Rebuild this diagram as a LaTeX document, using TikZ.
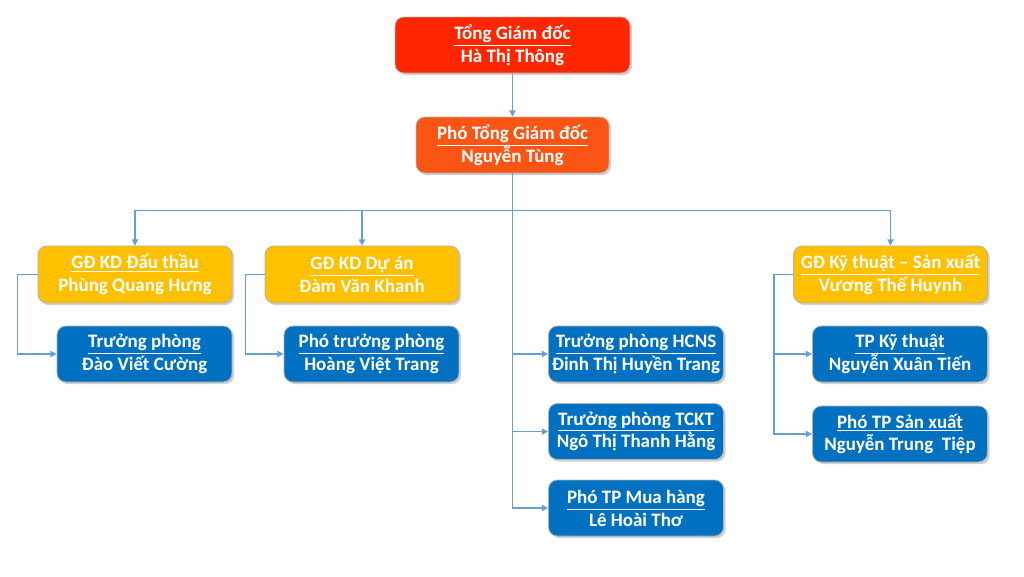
\documentclass[tikz,border=0pt]{standalone}
\usepackage{fontspec}
\setmainfont{Carlito}
\usetikzlibrary{arrows.meta,shadows}
\definecolor{cRed}{RGB}{255,38,0}
\definecolor{cOrange}{RGB}{250,85,20}
\definecolor{cGold}{RGB}{255,192,0}
\definecolor{cBlue}{RGB}{0,112,192}
\definecolor{cLine}{RGB}{100,160,215}
\begin{document}
\begin{tikzpicture}[x=0.02cm,y=-0.02cm,
  box/.style={rounded corners=5pt, draw=black!30, line width=0.5pt, text=white,
    font=\fontsize{10.8}{13}\selectfont\bfseries, align=center, inner sep=0pt,
    drop shadow={shadow xshift=1.2pt, shadow yshift=-1.2pt, fill=black!40, opacity=0.45}},
  topbox/.style={box, fill=cRed, minimum width=4.7cm, minimum height=1.12cm},
  vicebox/.style={box, fill=cOrange, minimum width=3.86cm, minimum height=1.12cm},
  goldbox/.style={box, fill=cGold, minimum width=3.88cm, minimum height=1.14cm},
  bluebox/.style={box, fill=cBlue, minimum width=3.5cm, minimum height=1.12cm},
  conn/.style={draw=cLine, line width=0.7pt, -{Triangle[length=3.5pt,width=3.5pt]}}
]
\useasboundingbox[fill=white] (0,0) rectangle (1024,576);

\node[topbox] (top) at (512.5,45) {\underline{Tổng Giám đốc}\\Hà Thị Thông};
\node[vicebox] (ptgd) at (512.5,145) {\underline{Phó Tổng Giám đốc}\\Nguyễn Tùng};

\node[goldbox] (gd1) at (135,274.5) {\underline{GĐ KD Đấu thầu}\\Phùng Quang Hưng};
\node[goldbox] (gd2) at (362,274.5) {\underline{GĐ KD Dự án}\\Đàm Văn Khanh};
\node[goldbox] (gd3) at (890.5,274.5) {\underline{GĐ Kỹ thuật – Sản xuất}\\Vương Thế Huynh};

\node[bluebox] (tp1) at (144.5,354) {\underline{Trưởng phòng}\\Đào Viết Cường};
\node[bluebox] (tp2) at (371.5,354) {\underline{Phó trưởng phòng}\\Hoàng Việt Trang};
\node[bluebox] (hcns) at (636,354) {\underline{Trưởng phòng HCNS}\\Đinh Thị Huyền Trang};
\node[bluebox] (tckt) at (636,431.5) {\underline{Trưởng phòng TCKT}\\Ngô Thị Thanh Hằng};
\node[bluebox] (mua) at (636,508) {\underline{Phó TP Mua hàng}\\Lê Hoài Thơ};
\node[bluebox] (kt) at (900,354) {\underline{TP Kỹ thuật}\\Nguyễn Xuân Tiến};
\node[bluebox] (sx) at (900,434) {\underline{Phó TP Sản xuất}\\Nguyễn Trung\ \ Tiệp};

\draw[conn] (top.south) -- (ptgd.north);
\draw[conn] (ptgd.south) -- ++(0,37) -| (gd1.north);
\draw[conn] (ptgd.south) -- ++(0,37) -| (gd2.north);
\draw[conn] (ptgd.south) -- ++(0,37) -| (gd3.north);
\draw[conn] (ptgd.south) |- (hcns.west);
\draw[conn] (ptgd.south) |- (tckt.west);
\draw[conn] (ptgd.south) |- (mua.west);

\draw[conn] (gd1.west) -- ++(-20,0) |- (tp1.west);
\draw[conn] (gd2.west) -- ++(-19,0) |- (tp2.west);
\draw[conn] (gd3.west) -- ++(-19,0) |- (kt.west);
\draw[conn] (gd3.west) -- ++(-19,0) |- (sx.west);
\end{tikzpicture}
\end{document}
